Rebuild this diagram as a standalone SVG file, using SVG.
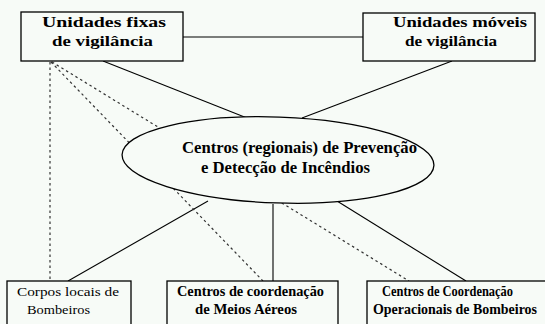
<svg xmlns="http://www.w3.org/2000/svg" width="545" height="324" viewBox="0 0 545 324">
<style>
.bg{fill:#f7fbf7}
.box{fill:#f7fbf7;stroke:#000;stroke-width:1.3}
.ln{stroke:#000;stroke-width:1.1;fill:none}
.dot{stroke:#333;stroke-width:1.2;fill:none;stroke-dasharray:2.5,3}
text{fill:#000}
.b{font-weight:bold}
</style>
<rect class="bg" x="0" y="0" width="545" height="324"/>
<g id="connectors">
<line class="ln" x1="183" y1="37" x2="363" y2="37"/>
<line class="ln" x1="103" y1="61" x2="247" y2="118"/>
<line class="ln" x1="452" y1="61" x2="302" y2="118"/>
<line class="ln" x1="68" y1="281" x2="208" y2="201"/>
<line class="ln" x1="273" y1="204" x2="273" y2="281"/>
<line class="ln" x1="466" y1="281" x2="337" y2="201"/>
<line class="dot" x1="50" y1="62" x2="50" y2="281"/>
<line class="dot" x1="51" y1="62" x2="263" y2="281"/>
<line class="dot" x1="52" y1="62" x2="409" y2="281"/>
</g>
<g font-family="Liberation Serif, Times New Roman, DejaVu Serif, serif">
<g id="n_fixas">
<rect class="box" x="21" y="12" width="162" height="49"/>
<text class="b" x="42" y="27" font-size="14" textLength="124" lengthAdjust="spacingAndGlyphs">Unidades fixas</text>
<text class="b" x="52" y="46" font-size="14" textLength="101" lengthAdjust="spacingAndGlyphs">de vigilância</text>
</g>
<g id="n_moveis">
<rect class="box" x="363" y="13" width="172" height="48"/>
<text class="b" x="393" y="27" font-size="14" textLength="134" lengthAdjust="spacingAndGlyphs">Unidades móveis</text>
<text class="b" x="405" y="46" font-size="14" textLength="92" lengthAdjust="spacingAndGlyphs">de vigilância</text>
</g>
<g id="n_centros">
<ellipse class="box" cx="278" cy="160" rx="156" ry="43" transform="rotate(2 278 160)"/>
<text class="b" x="182" y="153" font-size="16" textLength="235" lengthAdjust="spacingAndGlyphs">Centros (regionais) de Prevenção</text>
<text class="b" x="201" y="173" font-size="16" textLength="169" lengthAdjust="spacingAndGlyphs">e Detecção de Incêndios</text>
</g>
<g id="n_corpos">
<rect class="box" x="7" y="281" width="124" height="50"/>
<text x="17" y="296" font-size="13" textLength="102" lengthAdjust="spacingAndGlyphs">Corpos locais de</text>
<text x="27" y="314" font-size="13" textLength="63" lengthAdjust="spacingAndGlyphs">Bombeiros</text>
</g>
<g id="n_meios">
<rect class="box" x="167" y="281" width="171" height="50"/>
<text class="b" x="177" y="296" font-size="14" textLength="147" lengthAdjust="spacingAndGlyphs">Centros de coordenação</text>
<text class="b" x="195" y="314" font-size="14" textLength="102" lengthAdjust="spacingAndGlyphs">de Meios Aéreos</text>
</g>
<g id="n_operacionais">
<rect class="box" x="367" y="281" width="190" height="50"/>
<text class="b" x="382" y="296" font-size="14" textLength="131" lengthAdjust="spacingAndGlyphs">Centros de Coordenação</text>
<text class="b" x="373" y="314" font-size="14" textLength="164" lengthAdjust="spacingAndGlyphs">Operacionais de Bombeiros</text>
</g>
</g>
</svg>
